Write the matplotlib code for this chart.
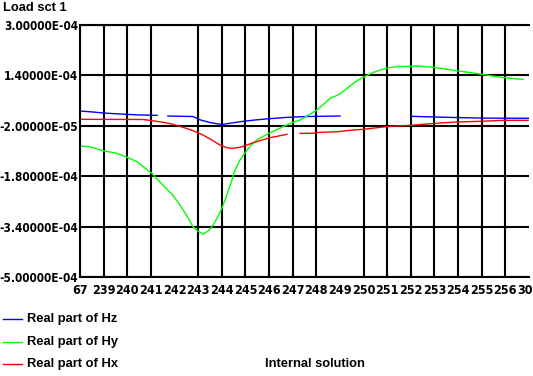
import numpy as np
import matplotlib.pyplot as plt
from matplotlib import font_manager

# ---------------- data (x in station index units, y in units of 1e-5) ----------------
x_labels = ['67', '239', '240', '241', '242', '243', '244', '245', '246', '247',
            '248', '249', '250', '251', '252', '253', '254', '255', '256', '300']
y_ticks = [3.0e-4, 1.4e-4, -2.0e-5, -1.8e-4, -3.4e-4, -5.0e-4]

# Real part of Hz (three separate pieces, nan = break)
hz_x = [0.0, 0.55, 0.97, 1.69, 2.54, 3.26, np.nan,
        3.72, 4.78, 5.1, 5.5, 6.0, 6.4, 6.9, 7.4, 8.0, 8.8, 9.6, 11.0, np.nan,
        14.0, 15.2, 17.0, 19.0]
hz_y = [2.70, 2.38, 2.07, 1.75, 1.43, 1.33, np.nan,
        1.11, 0.95, -0.16, -0.96, -1.59, -1.12, -0.58, -0.16, 0.25, 0.69, 0.95, 1.11, np.nan,
        1.01, 0.75, 0.45, 0.38]

# Real part of Hy
hy_x = [0.0, 0.42, 0.97, 1.57, 1.99, 2.41, 3.05, 3.51, 3.89, 4.23, 4.53, 4.78, 4.99,
        5.21, 5.42, 5.59, 5.80, 5.97, 6.14, 6.26, 6.43, 6.56, 6.77, 7.02, 7.24, 7.49,
        7.74, 8.00, 8.29, 8.59, 8.89, 9.31, 10.03, 10.58, 11.0, 11.30, 11.64, 11.98,
        12.36, 12.70, 13.12, 13.54, 14.26, 14.94, 15.45, 15.95, 16.50, 16.93, 17.65,
        18.20, 18.75]
hy_y = [-8.42, -8.64, -9.91, -10.74, -12.00, -13.40, -17.15, -20.80, -23.66, -27.15,
        -30.64, -34.04, -35.41, -36.36, -35.41, -34.04, -31.28, -28.74, -25.56, -22.93,
        -19.21, -16.04, -12.86, -10.23, -8.10, -6.51, -5.40, -4.39, -3.34, -2.29, -1.27,
        -0.16, 3.01, 6.66, 8.09, 9.90, 11.90, 13.39, 14.76, 15.71, 16.51, 16.82, 16.98,
        16.57, 16.03, 15.49, 14.92, 14.44, 13.59, 13.08, 12.76]

# Real part of Hx
hx_x = [0.0, 2.67, 2.96, 3.30, 3.51, 3.94, 4.36, 4.78, 5.21, 5.63, 5.92, 6.22, 6.43,
        6.77, 7.07, 7.32, 7.62, 8.04, 8.46, 8.76, np.nan,
        9.31, 9.86, 10.03, 10.88, 11.43, 11.98, 12.82, 13.33, 13.97, 14.52, 15.23,
        15.95, 16.93, 17.90, 18.96]
hx_y = [0.06, 0.0, -0.26, -0.64, -0.89, -1.53, -2.48, -3.56, -4.93, -6.73, -8.10,
        -8.96, -9.15, -8.83, -8.10, -7.37, -6.73, -5.78, -5.15, -4.70, np.nan,
        -4.39, -4.39, -4.13, -3.88, -3.43, -3.12, -2.39, -2.07, -1.85, -1.53, -1.12,
        -0.80, -0.58, -0.26, -0.26]

# ---------------- fonts: look for a condensed face for the tick labels ----------------
cond = font_manager.FontProperties(family='DejaVu Sans', weight='bold', stretch='condensed')
have_cond = 'Condensed' in font_manager.findfont(cond, fallback_to_default=True)
if have_cond:
    tick_font = dict(fontproperties=font_manager.FontProperties(
        fname=font_manager.findfont(cond)))
    ysize, xsize = 8.5, 9.0
else:
    tick_font = dict(fontfamily='DejaVu Sans', fontweight='bold')
    ysize, xsize = 7.8, 6.8
sans = ['Liberation Sans', 'DejaVu Sans']

# ---------------- figure ----------------
W, H = 533, 376
fig = plt.figure(figsize=(W / 100, H / 100), dpi=100)
fig.patch.set_facecolor('white')
ax = fig.add_axes([80 / W, 1 - 277 / H, 449 / W, 252 / H])

scale = 1e-5
ax.plot(hz_x, np.array(hz_y) * scale, color='#0000ff', lw=1.0)
ax.plot(hy_x, np.array(hy_y) * scale, color='#00ff00', lw=1.0)
ax.plot(hx_x, np.array(hx_y) * scale, color='#ff0000', lw=1.0)

ax.set_xlim(0, len(x_labels) - 1)
ax.set_ylim(y_ticks[-1], y_ticks[0])

# vertical grid (two lines are missing in the original)
for i in range(len(x_labels) - 1):
    if i in (4, 11):
        continue
    ax.axvline(i, color='black', lw=1.5, zorder=0)

ax.set_yticks(y_ticks)
ylabs = ax.set_yticklabels([f'{v:.5E}' for v in y_ticks])
ax.yaxis.grid(True, color='black', lw=1.5, zorder=0)
ax.set_axisbelow(True)

ax.set_xticks(range(len(x_labels)))
xlabs = ax.set_xticklabels(x_labels)
for t in ylabs:
    t.update(tick_font)
    t.set_fontsize(ysize)
for t in xlabs:
    t.update(tick_font)
    t.set_fontsize(xsize)
ax.tick_params(length=0, pad=1.5)
ax.tick_params(axis='x', pad=5)

ax.spines['right'].set_visible(False)
for s in ('left', 'bottom', 'top'):
    ax.spines[s].set_linewidth(1.5)

# title
fig.text(3 / W, 1 - 8 / H, 'Load sct 1', fontfamily=sans, fontweight='bold',
         fontsize=9.3, ha='left', va='center')

# legend drawn by hand below the plot
legend = [('Real part of Hz', '#0000ff', 319),
          ('Real part of Hy', '#00ff00', 342),
          ('Real part of Hx', '#ff0000', 364)]
for label, col, py in legend:
    fig.add_artist(plt.Line2D([3 / W, 22 / W], [1 - py / H, 1 - py / H],
                              color=col, lw=1.0, transform=fig.transFigure))
    fig.text(27 / W, 1 - py / H, label, fontfamily=sans, fontweight='bold',
             fontsize=9.3, ha='left', va='center')

fig.text(265 / W, 1 - 364 / H, 'Internal solution', fontfamily=sans,
         fontweight='bold', fontsize=9.3, ha='left', va='center')

fig.savefig('out.png', dpi=100)
